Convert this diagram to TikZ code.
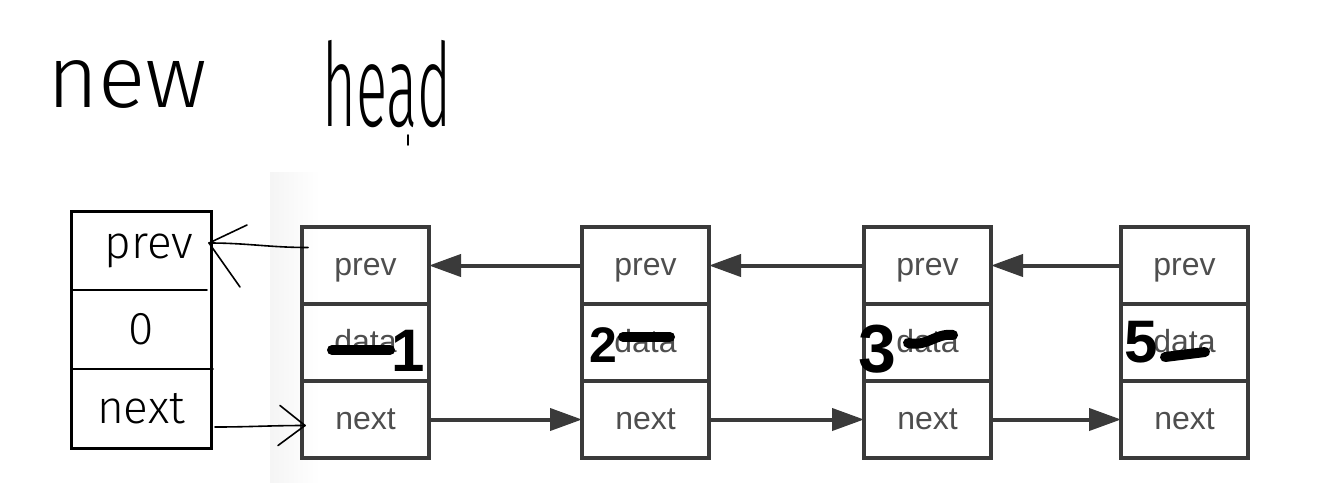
\documentclass[tikz,border=0pt]{standalone}
\usepackage{fontspec}
\setsansfont{Liberation Sans}
\newfontfamily\handfont{Fira Sans Light}
\usetikzlibrary{positioning,arrows.meta}
\definecolor{boxgray}{HTML}{3A3A3A}
\definecolor{txtgray}{HTML}{4E4E4E}

\begin{document}
\begin{tikzpicture}[
        x=0.5pt, y=-0.5pt,
        node distance=0pt,
        cell/.style={draw=boxgray, line width=2pt, minimum width=63.5pt, minimum height=38.5pt,
            inner sep=0pt, outer sep=0pt, text height=11pt, text depth=0.7pt,
            text=txtgray, font=\sffamily\fontsize{16}{19}\selectfont},
        link/.style={draw=boxgray, line width=2pt, -{Triangle[length=16pt,width=11pt]}},
        hcell/.style={minimum width=70pt, minimum height=39.5pt, inner sep=0pt, outer sep=0pt,
            font=\handfont\fontsize{23}{26}\selectfont},
        handlbl/.style={inner sep=0pt, font=\handfont\fontsize{44}{50}\selectfont},
        hand/.style={line width=0.8pt, line cap=round, line join=round},
        ink/.style={line width=5pt, line cap=round, line join=round},
        digit/.style={inner sep=0pt, font=\sffamily\bfseries},
    ]
    \useasboundingbox (0,0) rectangle (1326,482);
    \shade[left color=black!4, right color=white] (270,172) rectangle (320,482);

    % handwritten titles
    \node[handlbl] (newlbl) at (127,84) {new};
    \node[handlbl, xscale=0.5, font=\handfont\fontsize{58}{62}\selectfont] (headlbl) at (387,84) {head};
    \draw[hand] (408,135) -- (408,145);

    % the new node, drawn by hand
    \node[hcell] (hprev) at (141,250.5) {\hspace{8pt}prev};
    \node[hcell, below=of hprev] (hzero) {0};
    \node[hcell, below=of hzero] (hnext) {next};
    \draw[line width=1.5pt] (hprev.north west) rectangle (hnext.south east);
    \draw[hand] (hprev.south west) -- ([xshift=-2pt]hprev.south east);
    \draw[hand] (hzero.south west) -- ([xshift=1pt]hzero.south east);

    % list nodes
    \node[cell] (p1) at (365.5,265.5) {prev};
    \node[cell, below=of p1] (d1) {data};
    \node[cell, below=of d1] (n1) {next};
    \node[cell] (p2) at (645.5,265.5) {prev};
    \node[cell, below=of p2] (d2) {data};
    \node[cell, below=of d2] (n2) {next};
    \node[cell] (p3) at (927.5,265.5) {prev};
    \node[cell, below=of p3] (d3) {data};
    \node[cell, below=of d3] (n3) {next};
    \node[cell] (p4) at (1184.5,265.5) {prev};
    \node[cell, below=of p4] (d4) {data};
    \node[cell, below=of d4] (n4) {next};

    \draw[link] (p2.west) -- (p1.east);
    \draw[link] (p3.west) -- (p2.east);
    \draw[link] (p4.west) -- (p3.east);
    \draw[link] (n1.east) -- (n2.west);
    \draw[link] (n2.east) -- (n3.west);
    \draw[link] (n3.east) -- (n4.west);

    % hand-drawn links to the new node
    \draw[hand] ([xshift=3pt,yshift=9pt]p1.west) to[out=180,in=0] ([xshift=-1pt,yshift=3.75pt]hprev.east);
    \draw[hand] ([xshift=18pt,yshift=12.75pt]hprev.east) -- ([xshift=-1pt,yshift=3.75pt]hprev.east)
        -- ([xshift=14.5pt,yshift=-18.25pt]hprev.east);
    \draw[hand] ([xshift=2pt,yshift=-9.25pt]hnext.east) to[out=0,in=180] ([xshift=1.5pt,yshift=-3pt]n1.west);
    \draw[hand] ([xshift=-11pt,yshift=7pt]n1.west) -- ([xshift=1.5pt,yshift=-3pt]n1.west)
        -- ([xshift=-12pt,yshift=-13pt]n1.west);

    % values written over the data fields
    \draw[ink] (332,350) -- (390,350);
    \node[digit, font=\sffamily\bfseries\fontsize{30}{32}\selectfont] (v1) at (408,351) {1};
    \node[digit, font=\sffamily\bfseries\fontsize{25}{28}\selectfont] (v2) at (603,345) {2};
    \draw[ink] (623,337) -- (670,337);
    \node[digit, font=\sffamily\bfseries\fontsize{34}{36}\selectfont] (v3) at (877,349) {3};
    \draw[ink] (908,343) .. controls (928,347) and (935,333) .. (953,335);
    \node[digit, font=\sffamily\bfseries\fontsize{30}{32}\selectfont] (v5) at (1141,342) {5};
    \draw[ink] (1165,357) -- (1205,352);
\end{tikzpicture}
\end{document}
